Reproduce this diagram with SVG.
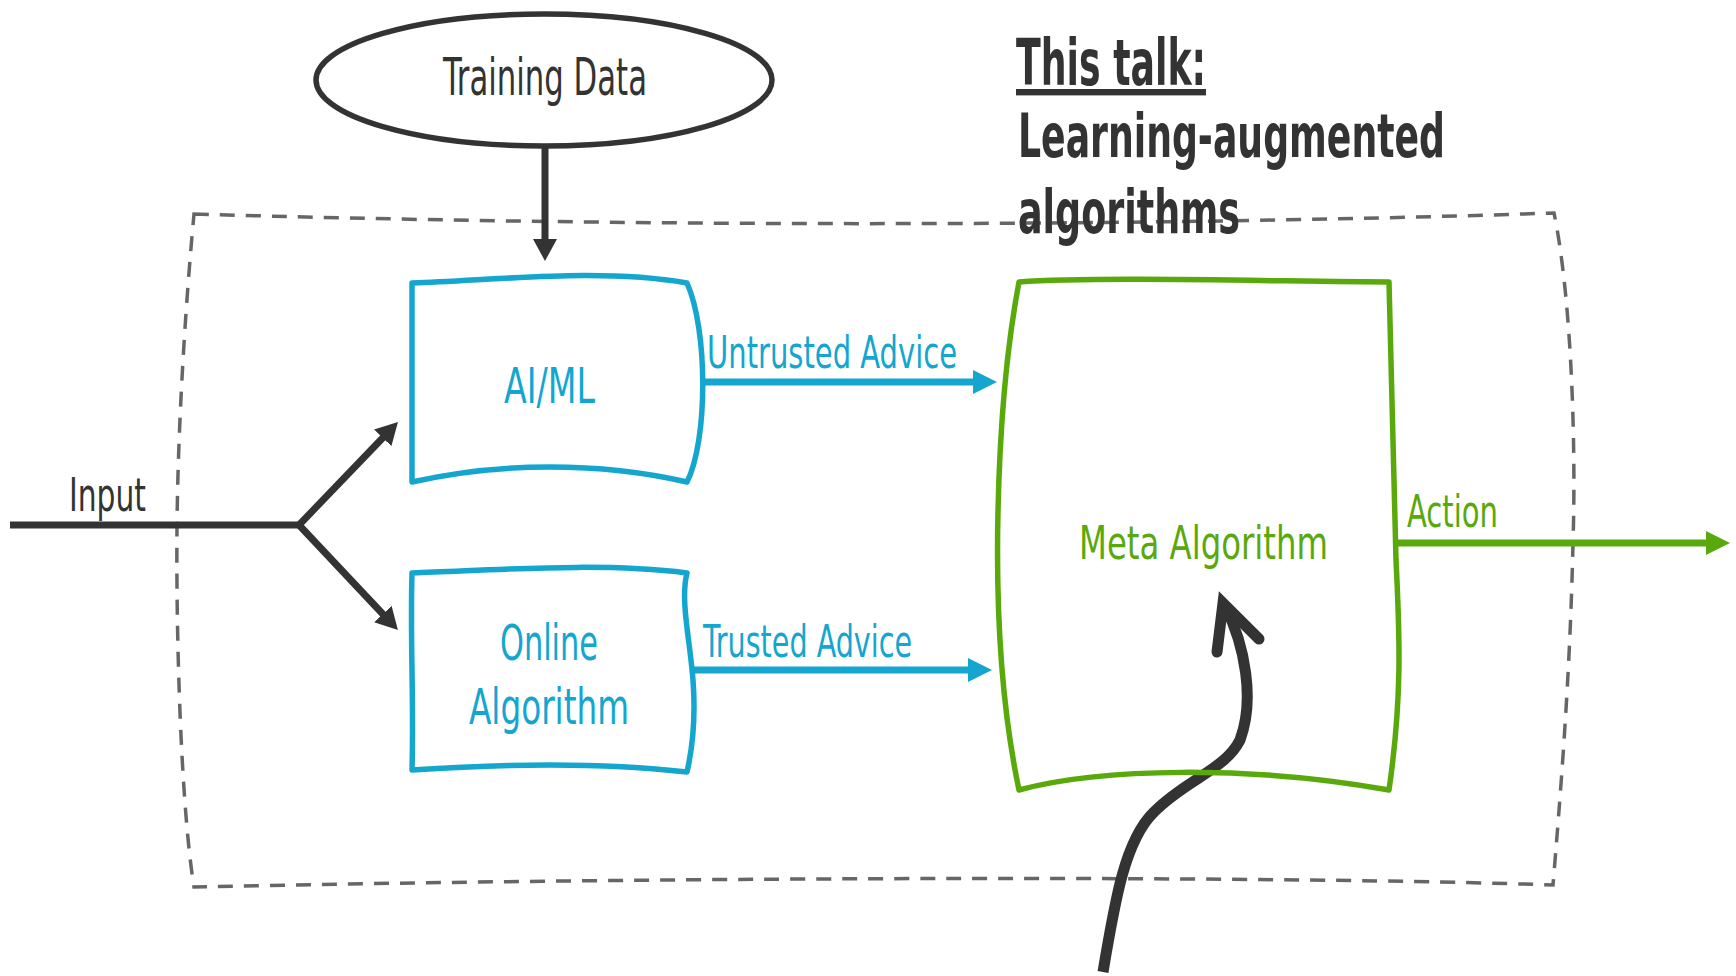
<svg xmlns="http://www.w3.org/2000/svg" width="1736" height="976" viewBox="0 0 1736 976">
<style>
  .t { font-family: "Liberation Sans Narrow", "DejaVu Sans Condensed", "Liberation Sans", sans-serif; }
  .dark { fill: #333333; }
  .blue { fill: #14a6cf; }
  .green { fill: #5aa90c; }
  .bold { font-weight: bold; }
  .boxBlue { fill: none; stroke: #14a6cf; stroke-width: 5.5; stroke-linejoin: round; }
  .boxGreen { fill: none; stroke: #5aa90c; stroke-width: 5.5; stroke-linejoin: round; }
  .lnDark { fill: none; stroke: #333333; stroke-width: 7; }
  .lnBlue { fill: none; stroke: #14a6cf; stroke-width: 7; }
  .lnGreen { fill: none; stroke: #5aa90c; stroke-width: 7; }
</style>
<defs>
  <marker id="ahDark" viewBox="0 0 22 24" refX="4" refY="12" markerWidth="22" markerHeight="24" markerUnits="userSpaceOnUse" orient="auto">
    <path d="M0,0 L22,12 L0,24 z" fill="#333333"/>
  </marker>
  <marker id="ahBlue" viewBox="0 0 24 24" refX="4" refY="12" markerWidth="24" markerHeight="24" markerUnits="userSpaceOnUse" orient="auto">
    <path d="M0,0 L24,12 L0,24 z" fill="#14a6cf"/>
  </marker>
  <marker id="ahGreen" viewBox="0 0 24 24" refX="4" refY="12" markerWidth="24" markerHeight="24" markerUnits="userSpaceOnUse" orient="auto">
    <path d="M0,0 L24,12 L0,24 z" fill="#5aa90c"/>
  </marker>
</defs>
<rect width="1736" height="976" fill="#ffffff"/>

<g id="boundary">
  <path d="M194,214 C 600,226 1100,228 1554,213 C 1572,300 1576,450 1573,543 C 1570,680 1560,800 1553,885 C 1300,876 700,876 194,887 C 180,800 176,620 177,527 C 178,420 186,300 194,214 Z" fill="none" stroke="#666666" stroke-width="3.5" stroke-dasharray="15 11"/>
</g>

<g id="connectors">
  <line class="lnDark" x1="545" y1="146" x2="545" y2="243" marker-end="url(#ahDark)"/>
  <polyline class="lnDark" points="10,525 299,525" stroke-linejoin="miter"/>
  <line class="lnDark" x1="299" y1="525" x2="385.5" y2="435" marker-end="url(#ahDark)"/>
  <line class="lnDark" x1="299" y1="525" x2="385.6" y2="617" marker-end="url(#ahDark)"/>
  <line class="lnBlue" x1="702" y1="382" x2="977" y2="382" marker-end="url(#ahBlue)"/>
  <line class="lnBlue" x1="693" y1="670" x2="972" y2="670" marker-end="url(#ahBlue)"/>
  <line class="lnGreen" x1="1396" y1="543" x2="1710" y2="543" marker-end="url(#ahGreen)"/>
  <path d="M1103,972 C 1115,900 1125,840 1154,812 C 1185,780 1225,770 1240,740 C 1255,700 1245,645 1225,606" fill="none" stroke="#333333" stroke-width="11" stroke-linecap="butt"/>
  <polyline points="1217,652 1223,603 1259,639" fill="none" stroke="#333333" stroke-width="11" stroke-linecap="round" stroke-linejoin="miter"/>
  <text class="t dark" x="69" y="511" font-size="46" textLength="77" lengthAdjust="spacingAndGlyphs">Input</text>
  <text class="t blue" x="707" y="368" font-size="44" textLength="250" lengthAdjust="spacingAndGlyphs">Untrusted Advice</text>
  <text class="t blue" x="703" y="657" font-size="45" textLength="209" lengthAdjust="spacingAndGlyphs">Trusted Advice</text>
  <text class="t green" x="1407" y="527" font-size="45" textLength="91" lengthAdjust="spacingAndGlyphs">Action</text>
</g>

<g id="training-data">
  <ellipse cx="544" cy="80" rx="228" ry="66" fill="#ffffff" stroke="#333333" stroke-width="5.5"/>
  <text class="t dark" x="443" y="95" font-size="51" textLength="204" lengthAdjust="spacingAndGlyphs">Training Data</text>
</g>

<g id="this-talk">
  <text class="t dark bold" x="1016" y="85" font-size="64" textLength="190" lengthAdjust="spacingAndGlyphs" text-decoration="underline">This talk:</text>
  <text class="t dark bold" x="1018" y="157" font-size="61" textLength="427" lengthAdjust="spacingAndGlyphs">Learning-augmented</text>
  <text class="t dark bold" x="1018" y="233" font-size="61" textLength="222" lengthAdjust="spacingAndGlyphs">algorithms</text>
</g>

<g id="ai-ml">
  <path class="boxBlue" d="M412,283 C 500,280 600,268 687,283 C 708,330 708,440 687,482 C 600,462 500,462 412,482 Z"/>
  <text class="t blue" x="504" y="403" font-size="50" textLength="91" lengthAdjust="spacingAndGlyphs">AI/ML</text>
</g>

<g id="online-algorithm">
  <path class="boxBlue" d="M412,573 C 500,570 600,562 687,573 C 680,600 690,640 693,680 C 696,720 692,750 687,772 C 600,762 500,764 412,770 C 414,700 410,640 412,573 Z"/>
  <text class="t blue" x="500" y="660" font-size="49" textLength="98" lengthAdjust="spacingAndGlyphs">Online</text>
  <text class="t blue" x="469" y="724" font-size="49" textLength="160" lengthAdjust="spacingAndGlyphs">Algorithm</text>
</g>

<g id="meta-algorithm">
  <path class="boxGreen" d="M1019,282 C 1100,276 1300,282 1389,282 C 1392,400 1394,500 1396,560 C 1400,640 1402,700 1389,790 C 1250,765 1100,768 1019,790 C 1000,700 996,600 998,511 C 1000,420 1008,340 1019,282 Z"/>
  <text class="t green" x="1079" y="559" font-size="47" textLength="249" lengthAdjust="spacingAndGlyphs">Meta Algorithm</text>
</g>
</svg>
